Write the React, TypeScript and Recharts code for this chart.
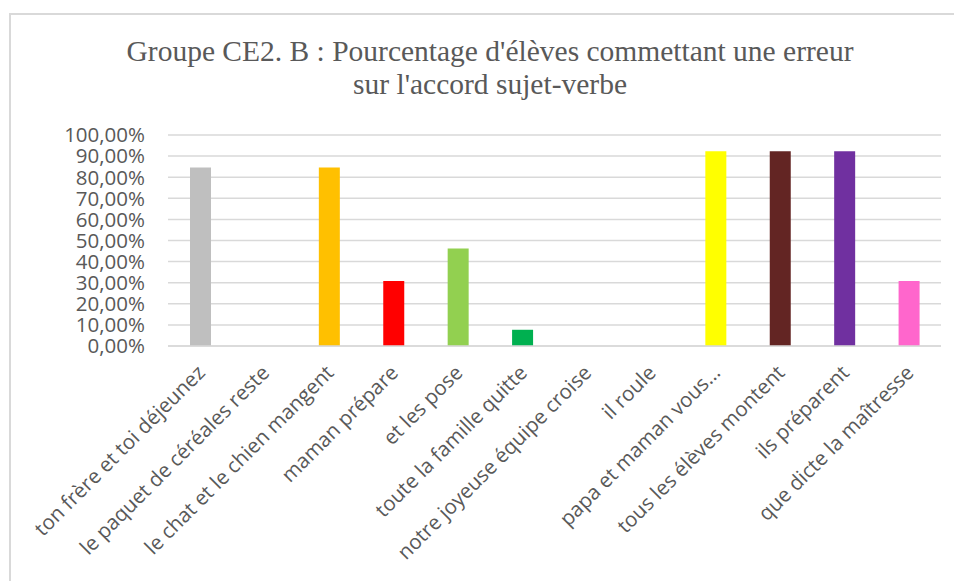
import { BarChart, Bar, XAxis, YAxis, CartesianGrid, Cell } from 'recharts';

// phrases (x categories) and share of pupils making the agreement error
const categories = [
  'ton frère et toi déjeunez',
  'le paquet de céréales reste',
  'le chat et le chien mangent',
  'maman prépare',
  'et les pose',
  'toute la famille quitte',
  'notre joyeuse équipe croise',
  'il roule',
  'papa et maman vous…',
  'tous les élèves montent',
  'ils préparent',
  'que dicte la maîtresse',
];
const errorRates = [0.8462, 0, 0.8462, 0.3077, 0.4615, 0.0769, 0, 0, 0.9231, 0.9231, 0.9231, 0.3077];
const yTicks = [0, 0.1, 0.2, 0.3, 0.4, 0.5, 0.6, 0.7, 0.8, 0.9, 1];

const barColors = [
  '#BFBFBF', '#BFBFBF', '#FFC000', '#FF0000', '#92D050', '#00B050',
  '#00B050', '#00B050', '#FFFF00', '#632523', '#7030A0', '#FF66CC',
];

const chartData = categories.map((name, i) => ({ name, value: errorRates[i] }));

const LABEL_FONT = '"Open Sans", sans-serif';
const TEXT_COLOR = '#595959';

const formatPct = (v: number) => (v * 100).toFixed(2).replace('.', ',') + '%';

const XTick = ({ x, y, payload }: any) => (
  <g transform={`translate(${x + 6},${y + 20})`}>
    <text
      transform="rotate(-45)"
      textAnchor="end"
      fill={TEXT_COLOR}
      fontSize={20.5}
      fontFamily={LABEL_FONT}
    >
      {payload.value}
    </text>
  </g>
);

const YTick = ({ x, y, payload }: any) => (
  <text
    x={x}
    y={y}
    dy="0.36em"
    textAnchor="end"
    fill={TEXT_COLOR}
    fontSize={20.5}
    fontFamily={LABEL_FONT}
  >
    {formatPct(payload.value)}
  </text>
);

export default function App() {
  return (
    <div style={{ position: 'absolute', left: 0, top: 0, width: 954, height: 581, background: '#fff', overflow: 'hidden' }}>
      <div
        style={{
          position: 'absolute',
          left: 9,
          top: 13,
          width: 1000,
          height: 620,
          border: '2px solid #d9d9d9',
          boxSizing: 'border-box',
        }}
      />
      <div
        style={{
          position: 'absolute',
          left: 0,
          width: 980,
          top: 35,
          textAlign: 'center',
          fontFamily: '"Liberation Serif", "Times New Roman", serif',
          fontSize: 29.5,
          lineHeight: '33px',
          color: TEXT_COLOR,
        }}
      >
        Groupe CE2. B : Pourcentage d'élèves commettant une erreur
        <br />
        sur l'accord sujet-verbe
      </div>
      <div style={{ position: 'absolute', left: 0, top: 0 }}>
        <BarChart
          width={954}
          height={581}
          data={chartData}
          margin={{ top: 135, right: 13, left: 0, bottom: 0 }}
        >
          <CartesianGrid vertical={false} stroke="#d9d9d9" strokeWidth={1.5} />
          <XAxis
            dataKey="name"
            interval={0}
            height={235}
            tickLine={false}
            axisLine={{ stroke: '#d9d9d9', strokeWidth: 1.5 }}
            tick={<XTick />}
          />
          <YAxis
            domain={[0, 1]}
            ticks={yTicks}
            interval={0}
            width={168}
            tickLine={false}
            axisLine={false}
            tickSize={0}
            tickMargin={23}
            tick={<YTick />}
          />
          <Bar dataKey="value" barSize={21} isAnimationActive={false}>
            {chartData.map((d, i) => (
              <Cell key={d.name} fill={barColors[i]} />
            ))}
          </Bar>
        </BarChart>
      </div>
    </div>
  );
}
